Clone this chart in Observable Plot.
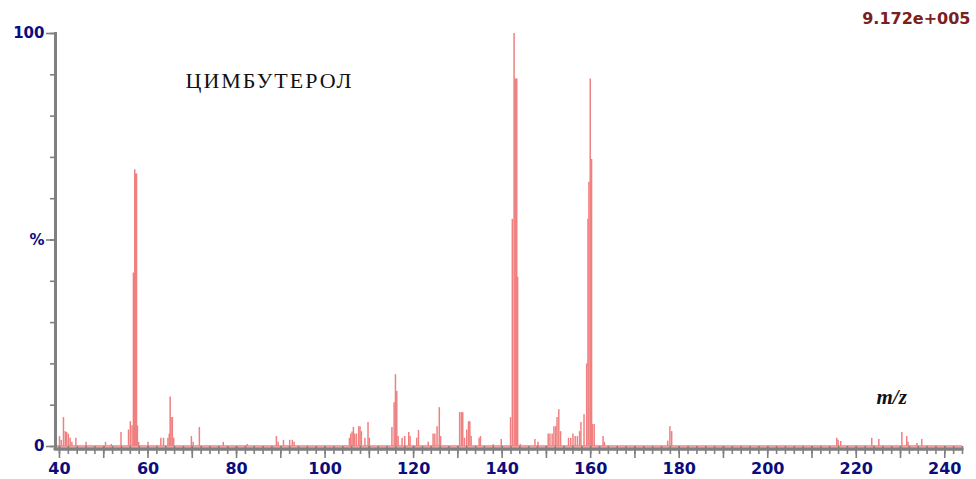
<!DOCTYPE html>
<html>
<head>
<meta charset="utf-8">
<script src="https://cdn.jsdelivr.net/npm/d3@7"></script>
<script src="https://cdn.jsdelivr.net/npm/@observablehq/plot@0.6"></script>
<style>
  html, body { margin: 0; padding: 0; background: #fff; }
  #chart svg { display: block; }
</style>
</head>
<body>
<div id="chart"></div>
<script>
// m/z values and relative intensities (%)
const mz = [
  40.0, 40.4, 40.9, 41.3, 41.6, 42.0, 42.4, 42.8, 43.7, 46.0,
  50.4, 51.7, 53.9, 55.6, 56.0, 56.4, 56.7, 57.0, 57.2, 57.4,
  57.6, 57.9, 60.0, 62.9, 63.5, 64.5, 64.8, 65.0, 65.2, 65.5,
  65.8, 69.8, 70.2, 71.6, 77.0, 82.4, 89.0, 89.4, 90.6, 92.0,
  92.6, 93.0, 105.5, 105.8, 106.1, 106.4, 106.7, 107.1, 107.6, 107.9,
  108.2, 109.0, 109.7, 110.0, 115.1, 115.6, 115.9, 116.2, 116.5, 117.4,
  118.0, 118.9, 119.2, 120.7, 121.1, 123.3, 124.4, 124.8, 125.3, 125.8,
  126.1, 130.4, 130.8, 131.1, 131.5, 132.0, 132.4, 132.7, 133.0, 134.8,
  135.1, 138.0, 139.8, 141.9, 142.3, 142.7, 142.9, 143.1, 143.3, 143.5,
  144.1, 147.4, 148.1, 150.4, 150.8, 151.3, 151.7, 152.1, 152.4, 152.8,
  153.2, 155.0, 155.5, 156.0, 156.5, 157.0, 157.5, 157.8, 158.5, 159.1,
  159.4, 159.6, 159.9, 160.0, 160.2, 160.4, 160.8, 162.8, 163.1, 177.4,
  177.9, 178.3, 215.6, 215.9, 216.5, 223.5, 225.1, 230.3, 231.4, 231.7,
  233.7, 234.8
];
const intensity = [
  2.4, 1.5, 7, 3.6, 3.4, 3, 2, 1, 2, 1,
  1, 0.5, 3.4, 4, 6, 5, 42, 67, 66, 66,
  5, 1, 1, 2, 2, 2, 3, 12, 7, 7,
  2, 2.4, 1, 4.6, 1, 0.5, 2.4, 1, 1.5, 1.5,
  1.5, 1, 2, 3, 3.5, 4.6, 3, 3, 4.8, 4.8,
  3.6, 2, 5.8, 2, 4.6, 10.6, 17.4, 13.3, 2.4, 2,
  2.4, 3.4, 2.4, 2, 3.9, 1, 3, 3, 4.8, 9.4,
  2.4, 8.2, 8.2, 8.2, 2, 4, 6, 6, 2.4, 2,
  2.4, 0.5, 1.7, 7, 55, 100, 89, 89, 89, 41,
  0.5, 1.7, 1, 3, 3, 3, 4.8, 4.8, 7, 8.9,
  3.6, 2, 2, 3, 2.4, 2.4, 3.6, 5.8, 7.7, 20,
  55, 64, 89, 64, 69.5, 5.3, 5.3, 2.4, 1, 1.3,
  4.8, 3.6, 2, 1.5, 1.2, 2, 1.7, 3.4, 2.4, 1,
  0.7, 1.7
];
const spectrum = mz.map((m, i) => ({mz: m, intensity: intensity[i]}));

const xMinorTicks = d3.range(40, 245, 2);
const xMajorTicks = d3.range(40, 245, 10);
const xLabelTicks = d3.range(40, 241, 20);
const yMinorTicks = d3.range(0, 101, 10);
const yLabelTicks = [0, 50, 100];
const yLabels = {0: "0", 50: "%", 100: "100"};

const title = "ЦИМБУТЕРОЛ";
const axisName = "m/z";
const maxIntensity = "9.172e+005";

const gray = "#808080";
const salmon = "#f08080";
const navy = "#0c0c7c";

const chart = Plot.plot({
  width: 976,
  height: 479,
  marginLeft: 55,
  marginRight: 14,
  marginTop: 33,
  marginBottom: 33,
  x: {domain: [39.1, 244]},
  y: {domain: [0, 100]},
  style: {background: "#fff"},
  marks: [
    Plot.ruleY([0], {stroke: salmon, strokeWidth: 1.5, dy: -0.5}),
    Plot.ruleX(spectrum, {x: "mz", y1: 0, y2: "intensity", stroke: salmon, strokeWidth: 1.5}),
    Plot.axisX(xMinorTicks, {tickSize: 8, tickFormat: () => "", stroke: gray, strokeWidth: 1.6, label: null}),
    Plot.axisX(xMajorTicks, {tickSize: 12, tickFormat: () => "", stroke: gray, strokeWidth: 1.6, label: null}),
    Plot.ruleY([0], {stroke: gray, strokeWidth: 3.5, dy: 2.5, strokeLinecap: "round"}),
    Plot.frame({anchor: "left", stroke: gray, strokeWidth: 3}),
    Plot.axisX(xLabelTicks, {tickSize: 0, tickPadding: 16, fill: navy, fontSize: 16, fontWeight: "bold", fontFamily: "DejaVu Sans", label: null}),
    Plot.axisY(yMinorTicks, {tickSize: 5, tickFormat: () => "", stroke: gray, strokeWidth: 1.6, label: null}),
    Plot.axisY(yLabelTicks, {tickSize: 9, tickFormat: () => "", stroke: gray, strokeWidth: 1.6, label: null}),
    Plot.axisY(yLabelTicks, {tickSize: 0, tickPadding: 11, tickFormat: d => yLabels[d], fill: navy, fontSize: 15, fontWeight: "bold", fontFamily: "DejaVu Sans", label: null}),
    Plot.text([title], {frameAnchor: "top-left", dx: 130, dy: 47, textAnchor: "start", lineAnchor: "middle", fontFamily: "Liberation Serif", fontSize: 22, fill: "#111"}),
    Plot.text([axisName], {frameAnchor: "top-left", dx: 821, dy: 364, textAnchor: "start", lineAnchor: "middle", fontFamily: "Liberation Serif", fontStyle: "italic", fontWeight: "bold", fontSize: 21, fill: "#111"}),
    Plot.text([maxIntensity], {frameAnchor: "top-right", dx: 8, dy: -15, textAnchor: "end", lineAnchor: "middle", fontFamily: "DejaVu Sans", fontWeight: "bold", fontSize: 16, fill: "#7a2020"})
  ]
});
// widen the title letters to match the reference's stretched lettering
d3.select(chart).selectAll("text").filter(function () { return this.textContent === title; })
  .style("letter-spacing", "2px");
document.getElementById("chart").appendChild(chart);
</script>
</body>
</html>
